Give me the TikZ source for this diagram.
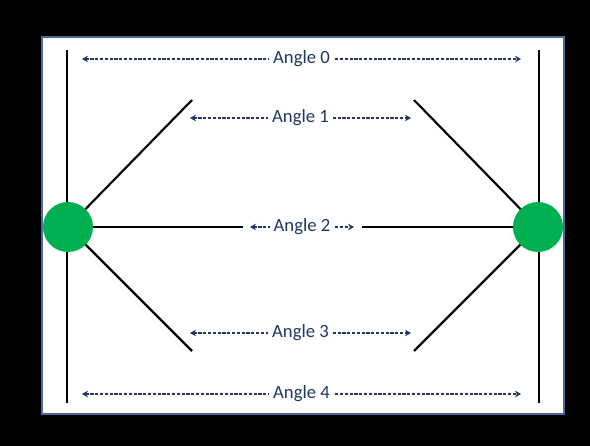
\documentclass[tikz,border=0pt]{standalone}
\usepackage{fontspec}
\setmainfont{Carlito}
\usetikzlibrary{arrows.meta}
\definecolor{navy}{HTML}{1F3864}
\definecolor{frameblue}{HTML}{4A6A9A}
\definecolor{dotgreen}{HTML}{00B050}
\begin{document}
\begin{tikzpicture}[x=0.75pt,y=-0.75pt,
  bar/.style={line width=1.6pt,black},
  hub/.style={circle,fill=dotgreen,minimum size=37.5pt,inner sep=0pt},
  span/.style={navy,line width=0.8pt,dash pattern=on 2.4pt off 1.2pt,
    {Stealth[length=4.5pt,width=5pt,inset=1.5pt]}-{Stealth[length=4.5pt,width=5pt,inset=1.5pt]}},
  lbl/.style={fill=white,text=navy,font=\fontsize{14}{16}\selectfont,inner sep=3pt,midway}]
  % page and frame
  \fill[black] (0,0) rectangle (590,446);
  \draw[frameblue,fill=white,line width=0.8pt] (42,37) rectangle (564,414);
  % end bars
  \coordinate (lt) at (67,50);  \coordinate (lb) at (67,403);
  \coordinate (rt) at (539,50); \coordinate (rb) at (539,403);
  \draw[bar] (lt) -- (lb);
  \draw[bar] (rt) -- (rb);
  % hubs
  \coordinate (L) at (68,227);
  \coordinate (R) at (538,227);
  % spokes
  \coordinate (l1) at (192,100); \coordinate (l3) at (192,351);
  \coordinate (r1) at (414,100); \coordinate (r3) at (414,351);
  \coordinate (l2) at (243,227); \coordinate (r2) at (362,227);
  \draw[bar] (L) -- (l1);
  \draw[bar] (L) -- (l3);
  \draw[bar] (L) -- (l2);
  \draw[bar] (R) -- (r1);
  \draw[bar] (R) -- (r3);
  \draw[bar] (R) -- (r2);
  \node[hub] (hl) at (L) {};
  \node[hub] (hr) at (R) {};
  % angle spans
  \coordinate (a0s) at (82,59);  \coordinate (a0e) at (521,59);
  \coordinate (a1s) at (190,118); \coordinate (a1e) at (411,118);
  \coordinate (a2s) at (250,227); \coordinate (a2e) at (354,227);
  \coordinate (a3s) at (190,333); \coordinate (a3e) at (411,333);
  \coordinate (a4s) at (82,394);  \coordinate (a4e) at (521,394);
  \draw[span] (a0s) -- node[lbl] (t0) {Angle 0} (a0e);
  \draw[span] (a1s) -- node[lbl] (t1) {Angle 1} (a1e);
  \draw[span] (a2s) -- node[lbl] (t2) {Angle 2} (a2e);
  \draw[span] (a3s) -- node[lbl] (t3) {Angle 3} (a3e);
  \draw[span] (a4s) -- node[lbl] (t4) {Angle 4} (a4e);
\end{tikzpicture}
\end{document}
